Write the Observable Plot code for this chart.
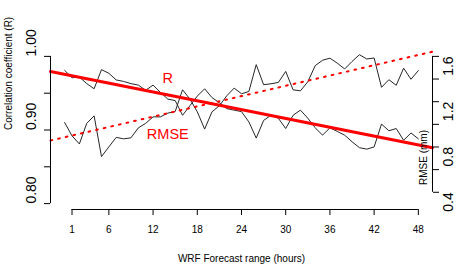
<!DOCTYPE html>
<html><head><meta charset="utf-8">
<script src="https://cdn.jsdelivr.net/npm/d3@7"></script>
<script src="https://cdn.jsdelivr.net/npm/@observablehq/plot@0.6"></script>
<style>body{margin:0;background:#fff}</style>
</head><body><div id="chart"></div>
<script>
// ---- data ----
const hours = [0,1,2,3,4,5,6,7,8,9,10,11,12,13,14,15,16,17,18,19,20,21,22,23,24,25,26,27,28,29,30,31,32,33,34,35,36,37,38,39,40,41,42,43,44,45,46,47,48];
const rValues = [0.981,0.971,0.972,0.963,0.956,0.982,0.977,0.968,0.966,0.963,0.961,0.954,0.961,0.951,0.942,0.940,0.920,0.933,0.946,0.956,0.944,0.937,0.929,0.927,0.925,0.911,0.889,0.913,0.920,0.916,0.902,0.920,0.927,0.916,0.903,0.893,0.903,0.898,0.893,0.884,0.876,0.874,0.877,0.908,0.899,0.902,0.886,0.896,0.888];
const rmseValues = [1.016,0.898,0.827,1.009,1.075,0.715,0.801,0.885,0.872,0.881,0.969,1.009,1.066,1.066,1.099,1.113,1.305,1.223,1.111,0.958,1.111,1.164,1.252,1.320,1.270,1.290,1.527,1.350,1.358,1.370,1.467,1.305,1.296,1.376,1.518,1.566,1.584,1.540,1.489,1.555,1.615,1.577,1.586,1.327,1.394,1.345,1.496,1.398,1.475];
const rTrend = {intercept: 0.9757, slope: -0.0020};
const rmseTrend = {intercept: 0.886, slope: 0.01514};
const xTicks = [1,6,12,18,24,30,36,42,48];
const rTicks = [0.80,0.85,0.90,0.95,1.00];
const rTickLabels = [0.80,0.90,1.00];
const rmseTicks = [0.4,0.6,0.8,1.0,1.2,1.4,1.6];
const rmseTickLabels = [0.4,0.8,1.2,1.6];
const rLimits = [0.80, 1.00];
const rmseLimits = [0.30, 1.60];
const annotationLabels = ["R", "RMSE"];
const annotationHours = [14, 14];
const annotationValues = [0.9697, 0.8939];
const xTitle = "WRF Forecast range (hours)";
const yTitle = "Correlation coefficient (R)";
const y2Title = "RMSE (mm)";

// ---- scales ----
const pad = 0.04;
const xDomain = [hours[0] - pad*(hours[hours.length-1]-hours[0]), hours[hours.length-1] + pad*(hours[hours.length-1]-hours[0])];
const rDomain = [rLimits[0] - pad*(rLimits[1]-rLimits[0]), rLimits[1] + pad*(rLimits[1]-rLimits[0])];
const rmseToR = d3.scaleLinear(rmseLimits, rLimits);

const rRows = hours.map((h,i)=>({hour:h, value:rValues[i]}));
const rmseRows = hours.map((h,i)=>({hour:h, value:rmseToR(rmseValues[i])}));
const rTrendRows = xDomain.map(h=>({hour:h, value:rTrend.intercept + rTrend.slope*h}));
const rmseTrendRows = xDomain.map(h=>({hour:h, value:rmseToR(rmseTrend.intercept + rmseTrend.slope*h)}));
const annotations = annotationLabels.map((t,i)=>({label:t, hour:annotationHours[i], value:annotationValues[i]}));

const chart = Plot.plot({
  width: 458, height: 272,
  marginLeft: 50, marginRight: 26, marginTop: 50, marginBottom: 63,
  x: {domain: xDomain},
  y: {domain: rDomain},
  style: {fontFamily: "'Liberation Sans', Arial, Helvetica, sans-serif", fontSize: "10px", background: "#fff", color: "#000"},
  marks: [
    Plot.line(rRows, {x: "hour", y: "value", stroke: "#262626", strokeWidth: 1}),
    Plot.line(rmseRows, {x: "hour", y: "value", stroke: "#262626", strokeWidth: 1}),
    Plot.line(rTrendRows, {x: "hour", y: "value", stroke: "#ff0000", strokeWidth: 3}),
    Plot.line(rmseTrendRows, {x: "hour", y: "value", stroke: "#ff0000", strokeWidth: 2, strokeDasharray: "1.8,6"}),
    // left axis
    Plot.ruleX([xDomain[0]], {y1: rLimits[0], y2: rLimits[1], stroke: "#000"}),
    Plot.axisY({anchor: "left", ticks: rTicks, tickSize: 6, tickFormat: () => "", label: null}),
    Plot.text(rTickLabels, {y: d => d, text: d => d.toFixed(2), frameAnchor: "left", dx: -19, rotate: -90, fontSize: 14}),
    // right axis
    Plot.ruleX([xDomain[1]], {y1: rmseToR(rmseTicks[0]), y2: rmseToR(rmseTicks[rmseTicks.length-1]), stroke: "#000"}),
    Plot.axisY({anchor: "right", ticks: rmseTicks.map(rmseToR), tickSize: 6, tickFormat: () => "", label: null}),
    Plot.text(rmseTickLabels, {y: d => rmseToR(d), text: d => d.toFixed(1), frameAnchor: "right", dx: 16, rotate: -90, fontSize: 14}),
    // bottom axis
    Plot.ruleY([rDomain[0]], {x1: xTicks[0], x2: xTicks[xTicks.length-1], stroke: "#000"}),
    Plot.axisX({ticks: xTicks, tickSize: 6, tickPadding: 10, tickFormat: d => String(d), label: null}),
    // titles
    Plot.text([xTitle], {text: d => d, frameAnchor: "bottom", dy: 52.7, fontSize: 10}),
    Plot.text([yTitle], {text: d => d, frameAnchor: "left", dx: -41.5, rotate: -90, fontSize: 10}),
    Plot.text([y2Title], {text: d => d, frameAnchor: "right", dx: -8.5, rotate: -90, fontSize: 10}),
    // annotations
    Plot.text(annotations, {x: "hour", y: "value", text: "label", fill: "#ff0000", fontSize: 14.5})
  ]
});
document.getElementById("chart").appendChild(chart);
</script>
</body></html>
